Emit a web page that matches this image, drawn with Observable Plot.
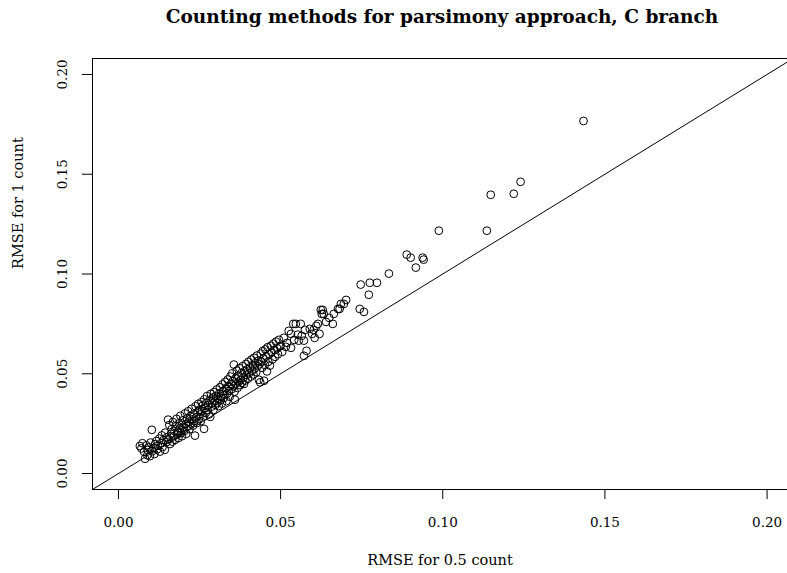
<!DOCTYPE html>
<html>
<head>
<meta charset="utf-8">
<script src="https://cdn.jsdelivr.net/npm/d3@7"></script>
<script src="https://cdn.jsdelivr.net/npm/@observablehq/plot@0.6"></script>
<style>
  html, body { margin: 0; padding: 0; background: #ffffff; overflow: hidden; }
  #title {
    box-sizing: border-box; width: 787px; height: 40px; padding-left: 97px;
    font-family: "DejaVu Serif"; font-weight: bold; font-size: 18.5px;
    line-height: 34px; text-align: center; color: #000;
  }
</style>
</head>
<body>
<div id="title"></div>
<div id="chart"></div>
<script>
const titleText = "Counting methods for parsimony approach, C branch";
const xLabel = "RMSE for 0.5 count";
const yLabel = "RMSE for 1 count";
const tickValues = [0, 0.05, 0.10, 0.15, 0.20];
const xDomain = [-0.008, 0.2063];
const yDomain = [-0.008, 0.208];
const identityLine = [-0.01, 0.22];

// RMSE for 0.5 count (x)
const rmseHalf = [
  0.0066,0.0071,0.0074,0.0079,0.0082,0.0086,0.0089,0.0090,0.0094,0.0097,0.0099,0.0103,0.0104,0.0108,0.0111,0.0113,0.0117,0.0119,0.0122,0.0126,0.0128,0.0131,0.0134,0.0136,0.0139,0.0143,0.0144,0.0148,0.0150,0.0153,
  0.0155,0.0157,0.0159,0.0162,0.0164,0.0166,0.0168,0.0170,0.0173,0.0175,0.0176,0.0179,0.0181,0.0183,0.0185,0.0187,0.0189,0.0191,0.0193,0.0195,0.0196,0.0198,0.0201,0.0203,0.0205,0.0207,0.0209,0.0211,0.0213,0.0215,0.0217,0.0219,0.0221,0.0223,0.0226,0.0228,0.0230,0.0232,0.0234,0.0236,0.0238,0.0240,0.0242,0.0244,0.0246,0.0248,0.0250,
  0.0252,0.0254,0.0256,0.0258,0.0260,0.0262,0.0264,0.0265,0.0267,0.0269,0.0271,0.0273,0.0275,0.0277,0.0279,0.0281,0.0283,0.0285,0.0287,0.0289,0.0291,0.0293,0.0295,0.0297,0.0299,0.0301,0.0303,0.0305,0.0307,0.0309,0.0311,0.0313,0.0315,0.0317,0.0319,0.0321,0.0323,0.0325,0.0327,0.0329,0.0331,0.0333,0.0335,0.0337,0.0339,0.0341,0.0343,0.0345,0.0347,0.0349,
  0.0351,0.0353,0.0355,0.0356,0.0358,0.0359,0.0361,0.0363,0.0365,0.0367,0.0369,0.0371,0.0373,0.0375,0.0377,0.0379,0.0381,0.0383,0.0385,0.0387,0.0389,0.0391,0.0393,0.0395,0.0397,0.0399,0.0401,0.0403,0.0405,0.0408,0.0410,0.0412,0.0414,0.0416,0.0418,0.0420,0.0422,0.0425,0.0427,0.0429,0.0431,0.0433,0.0435,0.0437,0.0439,0.0441,0.0443,0.0445,0.0447,0.0449,
  0.0451,0.0453,0.0456,0.0458,0.0460,0.0462,0.0465,0.0467,0.0470,0.0472,0.0475,0.0478,0.0480,0.0483,0.0486,0.0489,0.0492,0.0495,0.0498,
  0.0500,0.0505,0.0510,0.0516,0.0520,0.0525,0.0532,0.0532,0.0539,0.0542,0.0547,0.0553,0.0556,0.0562,0.0565,0.0572,0.0572,0.0575,0.0580,0.0590,0.0597,0.0602,0.0605,0.0610,0.0615,0.0620,0.0624,0.0627,0.0630,0.0633,0.0640,0.0650,0.0661,0.0664,0.0677,0.0682,0.0686,0.0695,0.0702,
  0.0744,0.0747,0.0757,0.0772,0.0775,0.0797,0.0834,0.0889,0.0901,0.0917,0.0938,0.0941,0.0988,0.1136,0.1148,0.1219,0.1240,0.1434
];

// RMSE for 1 count (y)
const rmseOne = [
  0.0138,0.0126,0.0152,0.0109,0.0074,0.0141,0.0092,0.0118,0.0131,0.0087,0.0155,0.0219,0.0112,0.0128,0.0098,0.0147,0.0163,0.0121,0.0139,0.0175,0.0110,0.0152,0.0191,0.0133,0.0168,0.0119,0.0205,0.0157,0.0182,0.0270,
  0.0171,0.0243,0.0148,0.0199,0.0222,0.0160,0.0258,0.0186,0.0212,0.0169,0.0237,0.0274,0.0195,0.0209,0.0178,0.0251,0.0226,0.0289,0.0203,0.0242,0.0187,0.0266,0.0230,0.0214,0.0301,0.0248,0.0199,0.0276,0.0238,0.0312,0.0260,0.0222,0.0287,0.0251,0.0325,0.0271,0.0240,0.0298,0.0263,0.0190,0.0337,0.0282,0.0253,0.0308,0.0349,0.0275,0.0320,
  0.0296,0.0262,0.0358,0.0314,0.0341,0.0286,0.0224,0.0372,0.0329,0.0303,0.0355,0.0388,0.0318,0.0343,0.0296,0.0366,0.0284,0.0399,0.0335,0.0352,0.0381,0.0319,0.0408,0.0362,0.0344,0.0389,0.0421,0.0356,0.0373,0.0338,0.0402,0.0432,0.0368,0.0386,0.0351,0.0447,0.0412,0.0379,0.0395,0.0459,0.0427,0.0363,0.0401,0.0471,0.0438,0.0414,0.0385,0.0486,0.0449,0.0423,
  0.0502,0.0463,0.0437,0.0546,0.0410,0.0370,0.0477,0.0451,0.0516,0.0429,0.0489,0.0460,0.0528,0.0443,0.0470,0.0503,0.0455,0.0538,0.0482,0.0449,0.0512,0.0466,0.0549,0.0494,0.0521,0.0475,0.0560,0.0503,0.0532,0.0486,0.0571,0.0514,0.0543,0.0497,0.0580,0.0526,0.0553,0.0508,0.0591,0.0538,0.0565,0.0470,0.0548,0.0457,0.0601,0.0560,0.0530,0.0614,0.0576,0.0465,
  0.0545,0.0622,0.0587,0.0512,0.0633,0.0560,0.0598,0.0541,0.0640,0.0608,0.0572,0.0651,0.0619,0.0585,0.0661,0.0628,0.0598,0.0670,0.0637,
  0.0640,0.0610,0.0680,0.0635,0.0655,0.0715,0.0700,0.0630,0.0750,0.0670,0.0750,0.0696,0.0666,0.0750,0.0690,0.0666,0.0590,0.0720,0.0615,0.0725,0.0700,0.0720,0.0680,0.0740,0.0750,0.0700,0.0820,0.0800,0.0820,0.0800,0.0760,0.0780,0.0750,0.0800,0.0825,0.0825,0.0850,0.0850,0.0870,
  0.0825,0.0947,0.0810,0.0896,0.0956,0.0956,0.1002,0.1097,0.1082,0.1032,0.1082,0.1072,0.1217,0.1217,0.1397,0.1402,0.1462,0.1767
];

document.getElementById("title").textContent = titleText;

const points = rmseHalf.map((x, i) => ({x, y: rmseOne[i]}));
const fmt = d3.format(".2f");

const chart = Plot.plot({
  width: 787,
  height: 533,
  marginTop: 18,
  marginBottom: 84,
  marginLeft: 92,
  marginRight: 0,
  style: {fontFamily: "DejaVu Serif", fontSize: "13.5px", color: "#000", background: "#fff"},
  x: {domain: xDomain, axis: null},
  y: {domain: yDomain, axis: null},
  marks: [
    Plot.ruleY([yDomain[0], yDomain[1]], {stroke: "#000", strokeWidth: 1}),
    Plot.ruleX([xDomain[0]], {stroke: "#000", strokeWidth: 1}),
    Plot.line(identityLine, {x: d => d, y: d => d, stroke: "#000", strokeWidth: 1, clip: true}),
    Plot.dot(points, {x: "x", y: "y", r: 3.9, stroke: "#000", fill: "none", strokeWidth: 1}),
    Plot.axisX(tickValues, {tickSize: 10, tickPadding: 18, tickFormat: fmt, label: null, stroke: "#000", fontSize: 13.5}),
    Plot.axisY(tickValues, {tickSize: 10, tickPadding: 16, tickRotate: -90, tickFormat: fmt, label: null, stroke: "#000", fontSize: 13.5}),
    Plot.text([xLabel], {frameAnchor: "bottom", dy: 75, fontSize: 14.5, fill: "#000"}),
    Plot.text([yLabel], {frameAnchor: "left", dx: -74, dy: -5, rotate: -90, fontSize: 14.5, fill: "#000"})
  ]
});
document.getElementById("chart").appendChild(chart);
</script>
</body>
</html>
